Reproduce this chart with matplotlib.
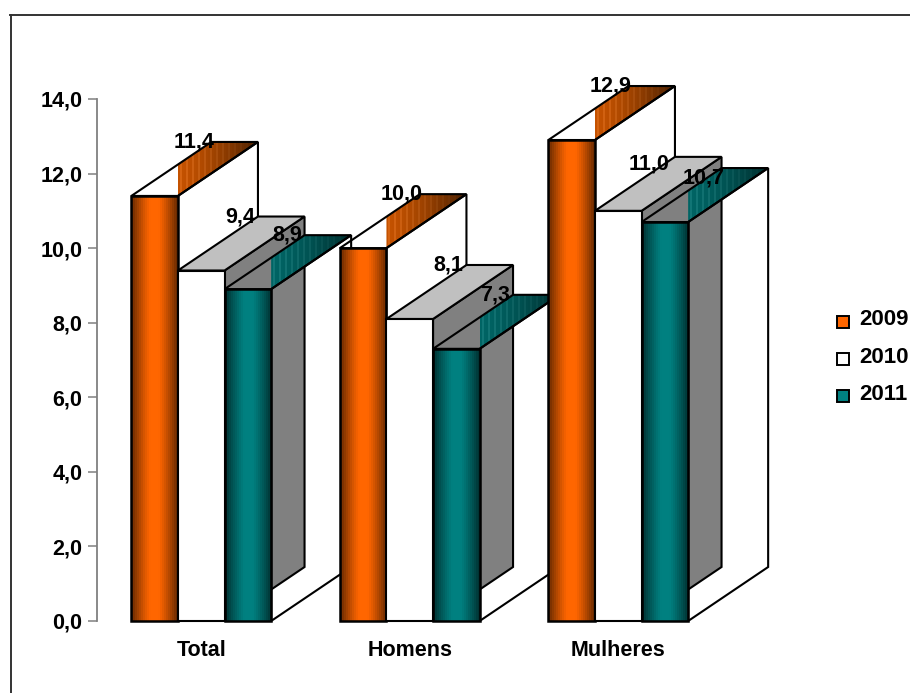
import matplotlib
matplotlib.use('Agg')
import matplotlib.pyplot as plt
from matplotlib.patches import Polygon, Rectangle
import numpy as np

categories = ['Total', 'Homens', 'Mulheres']
series = ['2009', '2010', '2011']
values_2009 = [11.4, 10.0, 12.9]
values_2010 = [9.4, 8.1, 11.0]
values_2011 = [8.9, 7.3, 10.7]
value_labels = [['11,4', '10,0', '12,9'], ['9,4', '8,1', '11,0'], ['8,9', '7,3', '10,7']]
y_ticks = [0, 2, 4, 6, 8, 10, 12, 14]
y_tick_labels = ['0,0', '2,0', '4,0', '6,0', '8,0', '10,0', '12,0', '14,0']

W, H = 910, 693
BAR_W = 0.2235
# fake 3d depth, in category / value units
DX = 80 / 208.5
DY = 54 / 37.29

plt.rcParams['font.family'] = ['Liberation Sans', 'DejaVu Sans']
plt.rcParams['font.weight'] = 'bold'

fig = plt.figure(figsize=(W / 100, H / 100), dpi=100)
ax = fig.add_axes([97 / W, 1 - 621 / H, 625.5 / W, 522 / H])
ax.patch.set_visible(False)


def shade(edge, mid, n=24):
    # dark - bright - dark bands, like the old office gradient
    edge = np.array(matplotlib.colors.to_rgb(edge))
    mid = np.array(matplotlib.colors.to_rgb(mid))
    u = np.abs(np.linspace(-1, 1, n))
    t = np.clip((u - 0.2) / 0.8, 0, 1) ** 1.2
    return (mid + (edge - mid) * t[:, None])[None, :, :]


def streaks(start, end, n=40):
    start = np.array(matplotlib.colors.to_rgb(start))
    end = np.array(matplotlib.colors.to_rgb(end))
    t = np.linspace(0, 1, n) ** 1.5
    img = start + (end - start) * t[:, None]
    img[1::3] = np.clip(img[1::3] + 0.07 * (1 - t[1::3, None]), 0, 1)
    return img[None, :, :]


def gradient(img, x0, x1, y0, y1, clip, z=2):
    im = ax.imshow(img, extent=[x0, x1, y0, y1], aspect='auto',
                   interpolation='nearest', zorder=z)
    im.set_clip_box(fig.bbox)
    im.set_clip_path(Polygon(clip, closed=True, transform=ax.transData))


def outline(points, z=3, lw=1.5):
    ax.add_patch(Polygon(points, closed=True, fill=False, edgecolor='black',
                         linewidth=lw, zorder=z, clip_on=False, joinstyle='miter'))


front_grad = [shade('#6b2b00', '#ff6600'), None, shade('#003333', '#008080')]
top_grad = [streaks('#c45200', '#4a2000'), None, streaks('#006464', '#002e2e')]
all_values = [values_2009, values_2010, values_2011]

for g in range(len(categories)):
    x_left = g + 0.5 - 1.5 * BAR_W
    for s, vals in enumerate(all_values):
        v = vals[g]
        x0 = x_left + s * BAR_W
        x1 = x0 + BAR_W
        z = 2 + g * 10 + s * 3
        side = [(x1, v), (x1 + DX, v + DY), (x1 + DX, DY), (x1, 0)]
        top = [(x0, v), (x1, v), (x1 + DX, v + DY), (x0 + DX, v + DY)]
        if s == 1:
            ax.add_patch(Polygon(side, closed=True, facecolor='#808080', edgecolor='black',
                                 linewidth=1.5, zorder=z, clip_on=False))
            ax.add_patch(Polygon(top, closed=True, facecolor='#c0c0c0', edgecolor='black',
                                 linewidth=1.5, zorder=z, clip_on=False))
            ax.bar(x0 + BAR_W / 2, v, BAR_W, color='white', edgecolor='black',
                   linewidth=1.5, zorder=z + 1, clip_on=False)
        else:
            # only the part of the top right of the bar gets its colour
            clip = [(x1, v), (x1 + DX, v + DY), (x0 + DX, v + DY), (x1, v + DY * BAR_W / DX)]
            gradient(top_grad[s], x1, x1 + DX, v, v + DY, clip, z=z)
            outline(top, z=z + 1)
            outline(side, z=z + 1)
            gradient(front_grad[s], x0, x1, 0, v, [(x0, 0), (x1, 0), (x1, v), (x0, v)], z=z + 1)
            ax.bar(x0 + BAR_W / 2, v, BAR_W, facecolor='none', edgecolor='black',
                   linewidth=1.8, zorder=z + 2, clip_on=False)

# the two labels in Mulheres sit off the top corner in the source
label_shift = {(1, 2): (-0.04, 0.2), (2, 2): (0.0, 0.27)}

for s, vals in enumerate(all_values):
    for g, v in enumerate(vals):
        x0 = g + 0.5 - 1.5 * BAR_W + s * BAR_W
        sx, sy = label_shift.get((s, g), (0, 0))
        ax.text(x0 + BAR_W / 2 + DX / 2 - 0.005 + sx, v + DY - sy, value_labels[s][g],
                ha='center', va='center', fontsize=15.5, fontweight='bold', color='black',
                zorder=60, clip_on=False)

ax.set_xlim(0, 3)
ax.set_ylim(0, 14)
ax.set_yticks(y_ticks)
ax.set_yticklabels(y_tick_labels, fontsize=15.5, fontweight='bold')
ax.tick_params(axis='y', length=6.5, width=1.1, color='#808080', pad=4)
ax.set_xticks([i + 0.5 for i in range(3)])
ax.set_xticklabels(categories, fontsize=15.5, fontweight='bold')
ax.tick_params(axis='x', length=0, pad=14)
for name in ['top', 'right', 'bottom']:
    ax.spines[name].set_visible(False)
ax.spines['left'].set_color('#808080')
ax.spines['left'].set_linewidth(1.3)

# outer chart frame, only the top and left show in the source
fig.add_artist(plt.Line2D([10.5 / W, 10.5 / W], [0, 1 - 15 / H], color='#333333', lw=1.4))
fig.add_artist(plt.Line2D([10 / W, 1], [1 - 15 / H, 1 - 15 / H], color='#333333', lw=1.4))

# legend
swatches = ['#ff6600', 'white', '#008080']
for i, (name, col) in enumerate(zip(series, swatches)):
    y = 1 - (321.5 + i * 37.2) / H
    fig.add_artist(Rectangle((836.5 / W, y - 6 / H), 12 / W, 12 / H, transform=fig.transFigure,
                             facecolor=col, edgecolor='black', linewidth=1.4))
    fig.text(859 / W, y + 1.5 / H, name, fontsize=16, fontweight='bold', va='center', ha='left')

fig.savefig('out.png', dpi=100)
